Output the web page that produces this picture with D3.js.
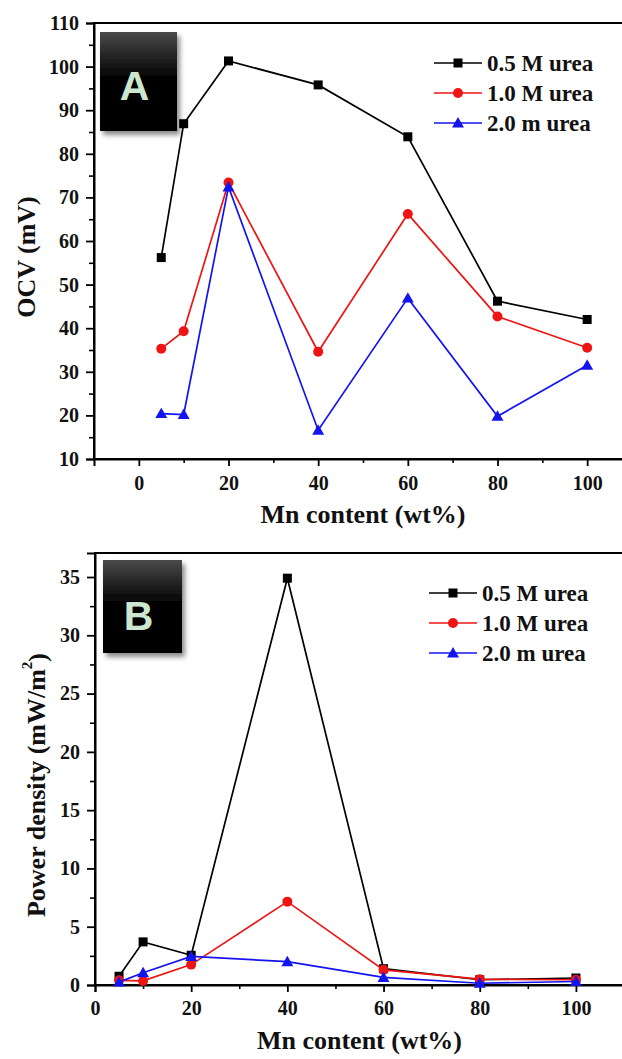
<!DOCTYPE html>
<html>
<head>
<meta charset="utf-8">
<script src="https://cdn.jsdelivr.net/npm/d3@7"></script>
<style>
  html, body { margin: 0; padding: 0; background: #fff; }
  svg { display: block; }
  .tick text { font-family: "Liberation Serif", "Times New Roman", serif; font-weight: bold; }
</style>
</head>
<body>
<div id="chart"></div>
<script>
// --- data ---
const mnContent = [5, 10, 20, 40, 60, 80, 100];
const seriesNames = ["0.5 M urea", "1.0 M urea", "2.0 m urea"];
const seriesColors = ["#000000", "#ee1414", "#1414ee"];
const seriesShapes = ["square", "circle", "triangle"];

const ocv05 = [56.2, 86.9, 101.3, 95.8, 83.9, 46.2, 42.0];
const ocv10 = [35.3, 39.3, 73.4, 34.6, 66.2, 42.7, 35.5];
const ocv20 = [20.4, 20.2, 72.4, 16.6, 46.9, 19.8, 31.5];

const pd05 = [0.75, 3.7, 2.55, 34.9, 1.4, 0.45, 0.6];
const pd10 = [0.4, 0.35, 1.75, 7.15, 1.3, 0.5, 0.45];
const pd20 = [0.25, 1.05, 2.45, 2.0, 0.65, 0.15, 0.3];

const ocvTicks = [10, 20, 30, 40, 50, 60, 70, 80, 90, 100, 110];
const pdTicks = [0, 5, 10, 15, 20, 25, 30, 35];
const xTicks = [0, 20, 40, 60, 80, 100];

const W = 622, H = 1059;
const serif = '"Liberation Serif", "Times New Roman", serif';

const svg = d3.select("#chart").append("svg").attr("width", W).attr("height", H);
const defs = svg.append("defs");

const grad = defs.append("linearGradient").attr("id", "boxGrad")
    .attr("x1", 0).attr("y1", 0).attr("x2", 0).attr("y2", 1);
grad.append("stop").attr("offset", "0%").attr("stop-color", "#4a4a4a");
grad.append("stop").attr("offset", "45%").attr("stop-color", "#050505");
grad.append("stop").attr("offset", "100%").attr("stop-color", "#000");

const shadow = defs.append("filter").attr("id", "boxShadow")
    .attr("x", "-20%").attr("y", "-20%").attr("width", "150%").attr("height", "150%");
shadow.append("feDropShadow").attr("dx", 3).attr("dy", 4).attr("stdDeviation", 2.5)
    .attr("flood-color", "#000").attr("flood-opacity", 0.45);

function drawMarker(g, shape, cx, cy, color) {
    if (shape === "square") {
        g.append("rect").attr("x", cx - 4.5).attr("y", cy - 4.5)
            .attr("width", 9).attr("height", 9).attr("fill", color);
    } else if (shape === "circle") {
        g.append("circle").attr("cx", cx).attr("cy", cy).attr("r", 5).attr("fill", color);
    } else {
        g.append("path").attr("d", d3.symbol().type(d3.symbolTriangle).size(62)())
            .attr("transform", `translate(${cx},${cy + 1})`).attr("fill", color);
    }
}

function drawPanel(p) {
    const x = d3.scaleLinear().domain(p.xDomain).range([p.left, p.right]);
    const y = d3.scaleLinear().domain(p.yDomain).range([p.bottom, p.top]);
    const g = svg.append("g");

    // frame (right edge falls outside the picture)
    g.append("rect").attr("x", p.left).attr("y", p.top)
        .attr("width", p.right - p.left).attr("height", p.bottom - p.top)
        .attr("fill", "none").attr("stroke", "#000").attr("stroke-width", 2);

    // minor ticks
    g.append("g").attr("transform", `translate(0,${p.bottom})`)
        .call(d3.axisBottom(x).tickValues(p.xMinor).tickSize(4).tickFormat(""))
        .call(a => a.select(".domain").remove())
        .selectAll("line").attr("stroke-width", 1.6);
    g.append("g").attr("transform", `translate(${p.left},0)`)
        .call(d3.axisLeft(y).tickValues(p.yMinor).tickSize(5).tickFormat(""))
        .call(a => a.select(".domain").remove())
        .selectAll("line").attr("stroke-width", 1.6);

    // major ticks
    const xa = g.append("g").attr("transform", `translate(0,${p.bottom})`)
        .call(d3.axisBottom(x).tickValues(xTicks).tickSize(7).tickPadding(p.xPad));
    const ya = g.append("g").attr("transform", `translate(${p.left},0)`)
        .call(d3.axisLeft(y).tickValues(p.yTicks).tickSize(8).tickPadding(7));
    [xa, ya].forEach(a => {
        a.select(".domain").attr("stroke-width", 2);
        a.selectAll("line").attr("stroke-width", 1.8);
        a.selectAll("text").attr("font-size", 20).attr("fill", "#111");
    });

    // series
    const lineGen = d3.line().x(d => x(d[0])).y(d => y(d[1]));
    p.series.forEach((vals, i) => {
        const pts = mnContent.map((m, j) => [m, vals[j]]);
        g.append("path").datum(pts).attr("d", lineGen)
            .attr("fill", "none").attr("stroke", seriesColors[i]).attr("stroke-width", 1.7);
        const mg = g.append("g");
        pts.forEach(d => drawMarker(mg, seriesShapes[i], x(d[0]), y(d[1]), seriesColors[i]));
    });

    // legend
    seriesNames.forEach((name, i) => {
        const ly = p.legY + i * 30;
        g.append("line").attr("x1", p.legX).attr("x2", p.legX + 48)
            .attr("y1", ly).attr("y2", ly)
            .attr("stroke", seriesColors[i]).attr("stroke-width", 1.7);
        drawMarker(g, seriesShapes[i], p.legX + 24, ly, seriesColors[i]);
        g.append("text").attr("x", p.legX + 53).attr("y", ly).attr("dy", "0.35em")
            .attr("font-family", serif).attr("font-weight", "bold").attr("font-size", 23)
            .attr("fill", "#111").text(name);
    });

    // axis titles
    g.append("text").attr("x", (p.left + p.right) / 2).attr("y", p.xTitleY)
        .attr("text-anchor", "middle").attr("font-family", serif).attr("font-weight", "bold")
        .attr("font-size", 26).attr("fill", "#111").text("Mn content (wt%)");
    const yt = g.append("text")
        .attr("transform", `translate(${p.yTitleX},${p.yTitleY}) rotate(-90)`)
        .attr("text-anchor", "middle").attr("font-family", serif).attr("font-weight", "bold")
        .attr("font-size", 26).attr("fill", "#111");
    yt.append("tspan").text(p.yTitle);
    if (p.yTitleSup) {
        yt.append("tspan").attr("font-size", 15).attr("dy", "-0.9em").text(p.yTitleSup);
        yt.append("tspan").attr("dy", "0.55em").text(")");
    }

    // panel letter box
    g.append("rect").attr("x", p.box[0]).attr("y", p.box[1])
        .attr("width", p.box[2]).attr("height", p.box[3])
        .attr("fill", "url(#boxGrad)").attr("filter", "url(#boxShadow)");
    g.append("text").attr("x", p.box[0] + p.box[2] / 2 - 4).attr("y", p.box[4])
        .attr("text-anchor", "middle").attr("font-family", '"Liberation Sans", Arial, sans-serif')
        .attr("font-weight", "bold").attr("font-size", 41).attr("fill", "#cde6d0").text(p.letter);
}

drawPanel({
    left: 94, right: 632, top: 23, bottom: 459,
    xDomain: [-10, 110], yDomain: [10, 110],
    yTicks: ocvTicks, yMinor: d3.range(15, 110, 10), xMinor: [10, 30, 50, 70, 90, 110],
    xPad: 10, series: [ocv05, ocv10, ocv20],
    legX: 434, legY: 63,
    xTitleY: 523, yTitleX: 35, yTitleY: 257, yTitle: "OCV (mV)",
    box: [100, 32, 77, 99, 100], letter: "A"
});

drawPanel({
    left: 95, right: 624, top: 553, bottom: 985,
    xDomain: [0, 110], yDomain: [0, 37.06],
    yTicks: pdTicks, yMinor: d3.range(2.5, 37, 5), xMinor: [10, 30, 50, 70, 90, 110],
    xPad: 9, series: [pd05, pd10, pd20],
    legX: 429, legY: 593,
    xTitleY: 1049, yTitleX: 45, yTitleY: 785, yTitle: "Power density (mW/m", yTitleSup: "2",
    box: [103, 560, 79, 93, 630], letter: "B"
});
</script>
</body>
</html>
